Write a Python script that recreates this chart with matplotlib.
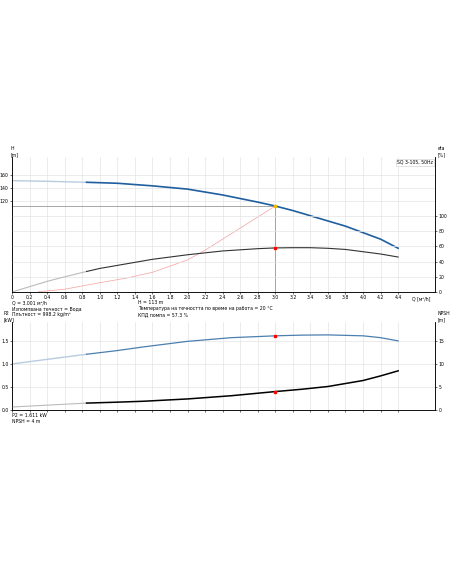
import matplotlib.pyplot as plt
import numpy as np

# pump curve (H, m)
q_h = [0, 0.4, 0.85, 1.2, 1.6, 2.0, 2.4, 2.8, 3.0, 3.2, 3.4, 3.6, 3.8, 4.0, 4.2, 4.4]
h = [152, 151, 149.5, 148, 144, 139, 130, 119, 113, 106, 98, 90, 82, 72, 62, 48]
# efficiency (%)
q_eta = [0, 0.2, 0.4, 0.6, 0.85, 1.0, 1.3, 1.6, 2.0, 2.4, 2.8, 3.0, 3.2, 3.4, 3.6, 3.8, 4.0, 4.2, 4.4]
eta = [0, 7, 14, 20, 27, 31, 37, 43, 49, 54, 57, 58, 58.3, 58.3, 57.5, 56, 53, 50, 46]
# system curve (H, m)
q_sys = [0.3, 0.6, 1.0, 1.3, 1.6, 2.0, 2.2, 2.4, 2.6, 2.8, 3.0]
h_sys = [-19, -15, -5, 2, 11, 30, 45, 62, 79, 96, 113]
# power and NPSH
q_low = [0, 0.85, 1.2, 1.5, 2.0, 2.5, 3.0, 3.3, 3.6, 4.0, 4.2, 4.4]
p2 = [1.0, 1.21, 1.29, 1.37, 1.49, 1.57, 1.61, 1.625, 1.63, 1.61, 1.57, 1.5]
npsh = [0.65, 1.5, 1.7, 1.9, 2.4, 3.1, 4.0, 4.5, 5.1, 6.4, 7.4, 8.5]

W, H = 452, 584
fig = plt.figure(figsize=(4.52, 5.84), dpi=100)
fs = 3.3
grid = '#e4e4e4'

def frac(l, t, r, b):
    return [l / W, 1 - b / H, (r - l) / W, (b - t) / H]

def style(ax):
    ax.set_xlim(0, 4.82)
    ax.set_xticks(np.arange(0, 4.41, 0.2))
    ax.grid(True, color=grid, lw=0.5)
    ax.tick_params(labelsize=fs, length=1.5, width=0.4, pad=1)
    for s in ax.spines.values():
        s.set_linewidth(0.5)
    ax.spines['top'].set_visible(False)

# top panel
ax = fig.add_axes(frac(12, 157, 435, 292))
style(ax)
ax.set_ylim(-19.3, 188.4)
ax.set_yticks([120, 140, 160])
ax.set_xticklabels(['%.1f' % v if v else '0' for v in np.arange(0, 4.41, 0.2)])
ax2 = ax.twinx()
ax2.set_ylim(0, 100 * 135 / 76)
ax2.set_yticks(range(0, 101, 20))
ax2.tick_params(labelsize=fs, length=1.5, width=0.4, pad=1)
ax2.spines['top'].set_visible(False)
for s in ax2.spines.values():
    s.set_linewidth(0.5)
for v in range(20, 101, 20):
    ax2.axhline(v, color=grid, lw=0.5, zorder=0)
ax.axhline(113, xmax=3.0 / 4.82, color='#999999', lw=0.6)
ax.axvline(3.0, ymax=(113 + 19.3) / 207.7, color='#999999', lw=0.6)

ax.plot(q_h[:3], h[:3], color='#b8cce0', lw=1)
ax.plot(q_h[2:], h[2:], color='#1f5f9f', lw=1.2)
ax.plot(q_sys, h_sys, color='#f4a0a0', lw=0.5)
ax.plot(3.0, 113, 's', color='#f5b800', ms=2)
ax2.plot(q_eta[:5], eta[:5], color='#bbbbbb', lw=0.8)
ax2.plot(q_eta[4:], eta[4:], color='#333333', lw=0.8)
ax2.plot(3.0, 58, 's', color='red', ms=2)

fig.text(11 / W, 1 - 157 / H, 'H\n[m]', fontsize=fs, va='bottom', ha='left')
fig.text(438 / W, 1 - 157 / H, 'eta\n[%]', fontsize=fs, va='bottom', ha='left')
fig.text(421 / W, 1 - 296 / H, 'Q [м³/h]', fontsize=fs, va='top', ha='center')
fig.text(433 / W, 1 - 160 / H, 'SQ 3-105, 50Hz', fontsize=fs, va='top', ha='right',
         bbox=dict(fc='white', ec='#cccccc', lw=0.4, pad=1))

fig.text(12 / W, 1 - 300 / H, 'Q = 3.001 м³/h\nИзпомпвана течност = Вода\nПлътност = 998.2 kg/m³',
         fontsize=fs, va='top', linespacing=1.25)
fig.text(138 / W, 1 - 300 / H, 'H = 113 m\nТемпература на течността по време на работа = 20 °C\nКПД помпа = 57.3 %',
         fontsize=fs, va='top', linespacing=1.25)

# bottom panel
bx = fig.add_axes(frac(12, 322, 435, 410))
style(bx)
bx.set_xticklabels([])
bx.set_ylim(0, 1.91)
bx.set_yticks([0, 0.5, 1.0, 1.5])
bx.set_yticklabels(['0.0', '0.5', '1.0', '1.5'])
bx2 = bx.twinx()
bx2.set_ylim(0, 19.1)
bx2.set_yticks([0, 5, 10, 15])
bx2.tick_params(labelsize=fs, length=1.5, width=0.4, pad=1)
bx2.spines['top'].set_visible(False)
for s in bx2.spines.values():
    s.set_linewidth(0.5)
bx.plot(q_low[:2], p2[:2], color='#b8cce0', lw=1)
bx.plot(q_low[1:], p2[1:], color='#4a7fb0', lw=0.9)
bx.plot(3.0, 1.61, 's', color='red', ms=2)
bx2.plot(q_low[:2], npsh[:2], color='#bbbbbb', lw=0.8)
bx2.plot(q_low[1:], npsh[1:], color='black', lw=1.1)
bx2.plot(3.0, 4.0, 's', color='red', ms=2)

fig.text(4 / W, 1 - 322 / H, 'P2\n[kW]', fontsize=fs, va='bottom', ha='left')
fig.text(438 / W, 1 - 322 / H, 'NPSH\n[m]', fontsize=fs, va='bottom', ha='left')
fig.text(12 / W, 1 - 413 / H, 'P2 = 1.611 kW\nNPSH = 4 m', fontsize=fs, va='top', linespacing=1.25)

fig.savefig('out.png', dpi=100)
